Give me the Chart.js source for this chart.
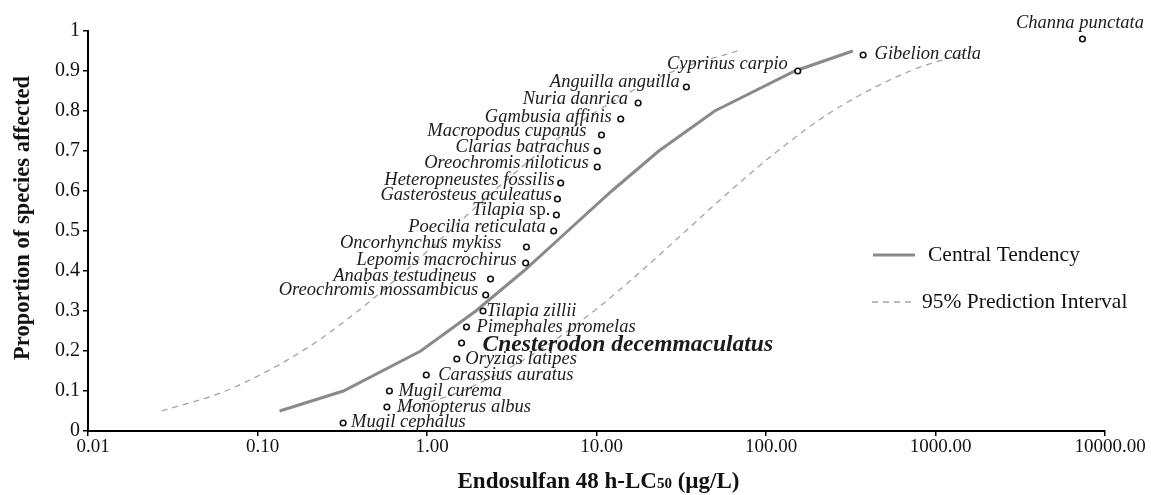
<!DOCTYPE html>
<html><head><meta charset="utf-8">
<script src="https://cdn.jsdelivr.net/npm/chart.js@4/dist/chart.umd.min.js"></script>
<style>html,body{margin:0;padding:0;background:#fff;overflow:hidden}</style>
</head><body>
<canvas id="c" width="1151" height="495"></canvas>
<script>
// ---- data ----
const species = ["Mugil cephalus","Monopterus albus","Mugil curema","Carassius auratus","Oryzias latipes",
  "Cnesterodon decemmaculatus","Pimephales promelas","Tilapia zillii","Oreochromis mossambicus","Anabas testudineus",
  "Lepomis macrochirus","Oncorhynchus mykiss","Poecilia reticulata","Tilapia sp.","Gasterosteus aculeatus",
  "Heteropneustes fossilis","Oreochromis niloticus","Clarias batrachus","Macropodus cupanus","Gambusia affinis",
  "Nuria danrica","Anguilla anguilla","Cyprinus carpio","Gibelion catla","Channa punctata"];
const speciesLC50 = [0.32,0.58,0.60,0.99,1.50,1.60,1.71,2.14,2.22,2.37,3.82,3.86,5.59,5.80,5.88,6.15,10.1,10.1,10.7,13.9,17.6,33.9,154,374,7360];
const speciesProportion = [0.02,0.06,0.10,0.14,0.18,0.22,0.26,0.30,0.34,0.38,0.42,0.46,0.50,0.54,0.58,0.62,0.66,0.70,0.74,0.78,0.82,0.86,0.90,0.94,0.98];
const highlightSpecies = "Cnesterodon decemmaculatus";

const centralLC50 = [0.135,0.321,0.918,1.94,3.72,6.76,12.3,23.3,49.8,148,325];
const centralProportion = [0.05,0.10,0.20,0.30,0.40,0.50,0.60,0.70,0.80,0.90,0.95];
const upperLC50 = [0.0272,0.0647,0.184,0.391,0.746,1.36,2.48,4.74,10.1,28.6,67.9];
const upperProportion = [0.05,0.10,0.20,0.30,0.40,0.50,0.60,0.70,0.80,0.90,0.95];
const lowerLC50 = [0.673,1.60,4.54,9.66,18.4,33.6,61.4,117,248,708,1679];
const lowerProportion = [0.05,0.10,0.20,0.30,0.40,0.50,0.60,0.70,0.80,0.90,0.95];

const xTickValues = [0.01,0.1,1,10,100,1000,10000];
const xTickLabels = ["0.01","0.10","1.00","10.00","100.00","1000.00","10000.00"];
const yTickValues = [0,0.1,0.2,0.3,0.4,0.5,0.6,0.7,0.8,0.9,1];
const yTickLabels = ["0","0.1","0.2","0.3","0.4","0.5","0.6","0.7","0.8","0.9","1"];

const xTitleParts = ["Endosulfan 48 h-LC", "50", " (µg/L)"];
const yTitle = "Proportion of species affected";
const legendLabels = ["Central Tendency", "95% Prediction Interval"];

// label placement for each species: [side, gap(px), dy(px)]
const labelPlacement = [
  ["right",8,-1],["right",10,0.5],["right",9,0.5],["right",12,0],["right",8.5,0.5],
  ["right",21,1.5],["right",10,0],["right",3.5,0.5],["left",7.5,-4.5],["left",14,-2.5],
  ["left",9,-2.5],["left",25,-3.5],["left",8,-3.5],["left",6,-4.5],["left",5.5,-3.5],
  ["left",6,-2.5],["left",8.5,-3.5],["left",7.5,-3.5],["left",15,-3.5],["left",9,-1.5],
  ["left",10,-3.5],["left",6.5,-4.5],["left",10,-7],["right",11.5,-0.5],["top",-2.5,-16]
];

const SERIF = '"Liberation Serif", "Times New Roman", serif';
const toXY = (xs, ys) => xs.map((x, i) => ({x: x, y: ys[i]}));

function drawParts(ctx, parts, x, y, align) {
  let total = 0;
  parts.forEach(p => { ctx.font = p.font; p.w = ctx.measureText(p.text).width; total += p.w; });
  let cx = align === 'right' ? x - total : (align === 'center' ? x - total / 2 : x);
  ctx.textAlign = 'left';
  parts.forEach(p => { ctx.font = p.font; ctx.fillText(p.text, cx, y + (p.dy || 0)); cx += p.w; });
}

const labelPlugin = {
  id: 'speciesLabels',
  afterDatasetsDraw(chart) {
    const meta = chart.getDatasetMeta(3);
    const ctx = chart.ctx;
    ctx.save();
    ctx.fillStyle = '#1c1c1c';
    ctx.textBaseline = 'middle';
    meta.data.forEach((pt, i) => {
      const name = species[i];
      const [side, gap, dy] = labelPlacement[i];
      let parts;
      if (name === highlightSpecies) {
        parts = [{text: name, font: 'italic bold 23.5px ' + SERIF}];
      } else if (name.endsWith(' sp.')) {
        parts = [{text: name.slice(0, -3), font: 'italic 18.5px ' + SERIF}, {text: 'sp.', font: '18.5px ' + SERIF}];
      } else {
        parts = [{text: name, font: 'italic 18.5px ' + SERIF}];
      }
      if (side === 'left') drawParts(ctx, parts, pt.x - gap, pt.y + dy, 'right');
      else if (side === 'right') drawParts(ctx, parts, pt.x + gap, pt.y + dy, 'left');
      else drawParts(ctx, parts, pt.x + gap, pt.y + dy, 'center');
    });
    ctx.restore();
  }
};

const decorPlugin = {
  id: 'decor',
  afterDraw(chart) {
    const ctx = chart.ctx;
    const ca = chart.chartArea;
    ctx.save();
    ctx.fillStyle = '#111';
    // x title with small "50"
    ctx.textBaseline = 'alphabetic';
    const xParts = [
      {text: xTitleParts[0], font: 'bold 23px ' + SERIF},
      {text: xTitleParts[1], font: 'bold 15px ' + SERIF},
      {text: xTitleParts[2], font: 'bold 23px ' + SERIF}
    ];
    drawParts(ctx, xParts, (ca.left + ca.right) / 2 + 2, 488, 'center');
    // y title
    ctx.save();
    ctx.translate(23, 218);
    ctx.rotate(-Math.PI / 2);
    ctx.font = 'bold 22.5px ' + SERIF;
    ctx.textAlign = 'center';
    ctx.textBaseline = 'middle';
    ctx.fillText(yTitle, 0, 0);
    ctx.restore();
    // legend
    const ds = chart.data.datasets;
    const rows = [{y: 255, ds: ds[0], label: legendLabels[0], x0: 873, x1: 915, tx: 928},
                  {y: 302, ds: ds[1], label: legendLabels[1], x0: 872, x1: 913, tx: 922}];
    rows.forEach(r => {
      ctx.save();
      ctx.strokeStyle = r.ds.borderColor;
      ctx.lineWidth = r.ds.borderWidth;
      ctx.setLineDash(r.ds.borderDash || []);
      ctx.beginPath(); ctx.moveTo(r.x0, r.y); ctx.lineTo(r.x1, r.y); ctx.stroke();
      ctx.restore();
      ctx.font = '21.5px ' + SERIF;
      ctx.textAlign = 'left';
      ctx.textBaseline = 'middle';
      ctx.fillStyle = '#111';
      ctx.fillText(r.label, r.tx, r.y);
    });
    ctx.restore();
  }
};

const zeroPad = (s) => { s.paddingLeft = 0; s.paddingRight = 0; s.paddingTop = 0; s.paddingBottom = 0; };

new Chart(document.getElementById('c'), {
  type: 'scatter',
  data: {
    datasets: [
      {label: legendLabels[0], type: 'line', data: toXY(centralLC50, centralProportion),
       borderColor: '#8a8a8a', borderWidth: 3, pointRadius: 0, tension: 0, fill: false, order: 3},
      {label: legendLabels[1], type: 'line', data: toXY(upperLC50, upperProportion),
       borderColor: '#a3a3a3', borderWidth: 1.3, borderDash: [6, 5], pointRadius: 0,
       cubicInterpolationMode: 'monotone', fill: false, order: 2},
      {label: legendLabels[1] + ' (lower)', type: 'line', data: toXY(lowerLC50, lowerProportion),
       borderColor: '#a3a3a3', borderWidth: 1.3, borderDash: [6, 5], pointRadius: 0,
       cubicInterpolationMode: 'monotone', fill: false, order: 2},
      {label: 'Species', data: toXY(speciesLC50, speciesProportion), showLine: false,
       pointRadius: 2.8, pointBorderWidth: 1.6, pointBorderColor: '#111', pointBackgroundColor: '#fff', order: 1}
    ]
  },
  options: {
    responsive: false,
    devicePixelRatio: 1,
    animation: false,
    layout: {padding: {top: 31, right: 46, left: 0, bottom: 0}},
    plugins: {legend: {display: false}, tooltip: {enabled: false}},
    scales: {
      x: {
        type: 'logarithmic', min: 0.01, max: 10000,
        afterBuildTicks: (axis) => { axis.ticks = xTickValues.map(v => ({value: v, major: true})); },
        afterFit: (s) => { s.height = 64; zeroPad(s); },
        ticks: {autoSkip: false, maxRotation: 0, minRotation: 0, padding: 0, labelOffset: 5, color: '#111',
                font: {family: SERIF, size: 19},
                callback: (v, i) => xTickLabels[i]},
        grid: {display: true, drawOnChartArea: false, drawTicks: true, tickLength: 5, color: '#000', lineWidth: 1.5},
        border: {display: true, color: '#000', width: 2}
      },
      y: {
        type: 'linear', min: 0, max: 1,
        afterBuildTicks: (axis) => { axis.ticks = yTickValues.map(v => ({value: v})); },
        afterFit: (s) => { s.width = 88; zeroPad(s); },
        ticks: {autoSkip: false, padding: 3, color: '#111', font: {family: SERIF, size: 20},
                callback: (v, i) => yTickLabels[i]},
        grid: {display: true, drawOnChartArea: false, drawTicks: true, tickLength: 5, color: '#000', lineWidth: 1.5},
        border: {display: true, color: '#000', width: 2}
      }
    }
  },
  plugins: [labelPlugin, decorPlugin]
});
</script>
</body></html>
